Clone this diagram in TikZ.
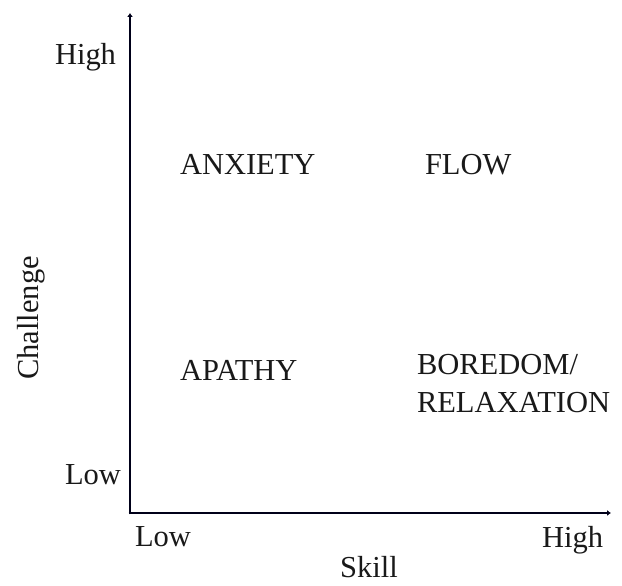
\documentclass[tikz,border=0pt]{standalone}
\usepackage{fontspec}
\setmainfont{Liberation Serif}
\usetikzlibrary{arrows.meta}
\begin{document}
\begin{tikzpicture}[x=1pt,y=1pt,
  lbl/.style={inner sep=0pt,outer sep=0pt,font=\fontsize{30.5}{36}\selectfont,text=black!90},
  axis/.style={line width=2.8pt,draw=black!90!blue,-{Latex[length=4pt,width=6pt]}}]
\useasboundingbox (0,0) rectangle (622,586);
\coordinate (o) at (130,73);
\coordinate (ytop) at (130,573);
\coordinate (xend) at (611,73);
\draw[axis] ([yshift=-1.4pt]o) -- (ytop);
\draw[axis] ([xshift=-1.4pt]o) -- (xend);
\node[lbl,anchor=base west] (yhigh) at (55,521) {High};
\node[lbl,anchor=base west] (ylow) at (65,101) {Low};
\node[lbl,anchor=base west] (xlow) at (135,39) {Low};
\node[lbl,anchor=base west] (xhigh) at (542,38) {High};
\node[lbl,anchor=base] (skill) at (369,8) {Skill};
\node[lbl,anchor=base,rotate=90] (chal) at (38,268) {Challenge};
\node[lbl,anchor=base west] (anx) at (180,411) {ANXIETY};
\node[lbl,anchor=base west] (flow) at (425,411) {FLOW};
\node[lbl,anchor=base west] (apa) at (180,205) {APATHY};
\node[lbl,anchor=base west] (bor) at (417,211) {BOREDOM/};
\node[lbl,anchor=base west] (rel) at (417,173) {RELAXATION};
\end{tikzpicture}
\end{document}
